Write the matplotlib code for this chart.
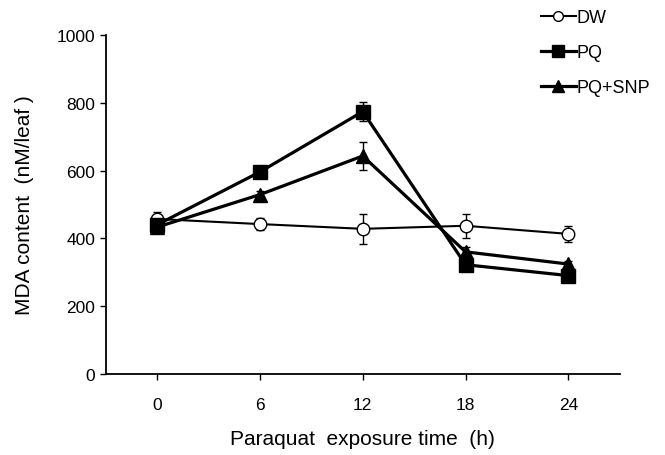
import matplotlib
matplotlib.use("Agg")
import matplotlib.pyplot as plt
from matplotlib.lines import Line2D

plt.rcParams["font.family"] = ["Liberation Sans", "DejaVu Sans"]

# exposure time (h)
hours = [0, 6, 12, 18, 24]

# MDA content (nM/leaf)
dw = [457, 442, 428, 437, 413]
dw_err = [22, 18, 45, 35, 23]
pq = [440, 596, 774, 322, 290]
pq_err = [12, 15, 28, 15, 12]
pq_snp = [433, 529, 643, 360, 324]
pq_snp_err = [10, 12, 40, 15, 10]

fig = plt.figure(figsize=(6.65, 4.56), dpi=100)
ax = fig.add_axes([0.159, 0.178, 0.773, 0.743])

common = dict(color="black", ecolor="black", elinewidth=1.0, capsize=3, capthick=1.0)
ax.errorbar(hours, dw, yerr=dw_err, marker="o", ms=9, mfc="white", mec="black",
            mew=1.0, lw=1.5, **common)
ax.errorbar(hours, pq, yerr=pq_err, marker="s", ms=10, mfc="black", mec="black",
            lw=2.3, **common)
ax.errorbar(hours, pq_snp, yerr=pq_snp_err, marker="^", ms=10, mfc="black", mec="black",
            lw=2.3, **common)

ax.set_xlim(-3, 27)
ax.set_ylim(0, 1000)
ax.set_xticks(hours)
ax.set_yticks([0, 200, 400, 600, 800, 1000])
for s in ("top", "right"):
    ax.spines[s].set_visible(False)
for s in ("left", "bottom"):
    ax.spines[s].set_linewidth(1.3)
ax.tick_params(axis="both", labelsize=12.5, length=4, width=1.0, direction="out")
ax.tick_params(axis="x", pad=13)
ax.set_xlabel("Paraquat  exposure time  (h)", fontsize=15, labelpad=12)
ax.set_ylabel("MDA content  (nM/leaf )", fontsize=15, labelpad=16)

# legend handles without error bars
handles = [
    Line2D([], [], color="black", lw=1.5, marker="o", ms=7, mfc="white", mec="black"),
    Line2D([], [], color="black", lw=2.3, marker="s", ms=8, mfc="black"),
    Line2D([], [], color="black", lw=2.3, marker="^", ms=8, mfc="black"),
]
fig.legend(handles, ["DW", "PQ", "PQ+SNP"], loc="upper left",
           bbox_to_anchor=(0.795, 1.005), frameon=False, borderpad=0.2,
           fontsize=13, handlelength=1.9, handletextpad=0.05, labelspacing=1.0)

fig.savefig("out.png", dpi=100)
